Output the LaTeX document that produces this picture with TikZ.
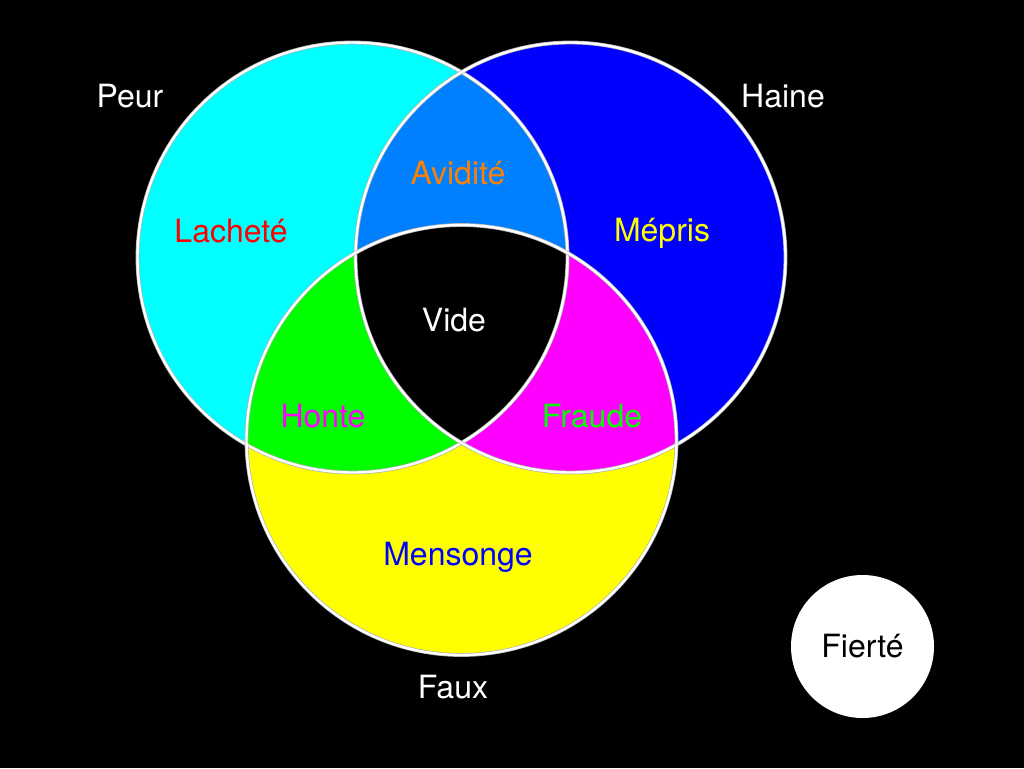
\documentclass[tikz,border=0pt]{standalone}
\usepackage{fontspec}
\setmainfont{TeX Gyre Heros}
\usetikzlibrary{positioning}
\definecolor{vnCyan}{HTML}{00FFFF}
\definecolor{vnBlue}{HTML}{0000FF}
\definecolor{vnYellow}{HTML}{FFFF00}
\definecolor{vnAzure}{HTML}{0080FF}
\definecolor{vnGreen}{HTML}{00FF00}
\definecolor{vnMagenta}{HTML}{FF00FF}
\definecolor{vnRed}{HTML}{FF0000}
\definecolor{vnOrange}{HTML}{FF8000}
\tikzset{
  vnfont/.style={font=\fontsize{32}{38}\selectfont},
  vnlabel/.style={vnfont, anchor=base, inner sep=0pt, text=white},
  vnrim/.style={draw=gray!60, double=white, double distance=2.4pt, line width=0.7pt},
  fierte/.style={circle, fill=white, minimum size=143pt, vnfont, text=black}
}
\begin{document}
\begin{tikzpicture}[x=1pt, y=-1pt]
  % canvas
  \fill[black] (0,0) rectangle (1024,768);
  \useasboundingbox (0,0) rectangle (1024,768);
  \coordinate (peur) at (352.5,257.5);
  \coordinate (haine) at (570.5,257.5);
  \coordinate (faux) at (461.5,440);
  \def\vnr{215}
  % single sets
  \fill[vnCyan] (peur) circle (\vnr);
  \fill[vnBlue] (haine) circle (\vnr);
  \fill[vnYellow] (faux) circle (\vnr);
  % pairwise overlaps
  \begin{scope}
    \clip (peur) circle (\vnr);
    \fill[vnAzure] (haine) circle (\vnr);
    \fill[vnGreen] (faux) circle (\vnr);
  \end{scope}
  \begin{scope}
    \clip (haine) circle (\vnr);
    \fill[vnMagenta] (faux) circle (\vnr);
  \end{scope}
  % triple overlap
  \begin{scope}
    \clip (peur) circle (\vnr);
    \clip (haine) circle (\vnr);
    \fill[black] (faux) circle (\vnr);
  \end{scope}
  \foreach \c in {peur,haine,faux}
    \draw[vnrim] (\c) circle (\vnr);
  % set names
  \node[vnlabel] (lPeur) at (130,107) {Peur};
  \node[vnlabel] (lHaine) at (783,107) {Haine};
  \node[vnlabel] (lFaux) at (453,698) {Faux};
  % regions
  \node[vnlabel, text=vnRed] (lLachete) at (231,242) {Lacheté};
  \node[vnlabel, text=vnOrange] (lAvidite) at (458,184) {Avidité};
  \node[vnlabel, text=vnYellow] (lMepris) at (662,241) {Mépris};
  \node[vnlabel] (lVide) at (454,331) {Vide};
  \node[vnlabel, text=vnMagenta] (lHonte) at (323,427) {Honte};
  \node[vnlabel, text=vnGreen] (lFraude) at (592,427) {Fraude};
  \node[vnlabel, text=vnBlue] (lMensonge) at (458,565) {Mensonge};
  \node[fierte] (fierte) at (862.5,646.5) {Fierté};
\end{tikzpicture}
\end{document}
